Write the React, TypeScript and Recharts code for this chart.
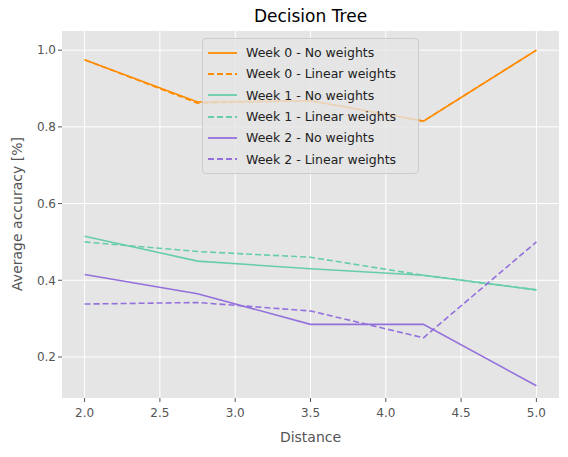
import { LineChart, Line, XAxis, YAxis, CartesianGrid, Label } from "recharts";

const distances = [2.0, 2.75, 3.5, 4.25, 5.0];
const week0None = [0.975, 0.865, 0.868, 0.815, 1.0];
const week0Linear = [0.975, 0.862, 0.868, 0.815, 1.0];
const week1None = [0.515, 0.45, 0.43, 0.413, 0.375];
const week1Linear = [0.5, 0.475, 0.46, 0.413, 0.375];
const week2None = [0.415, 0.365, 0.285, 0.285, 0.125];
const week2Linear = [0.338, 0.342, 0.32, 0.25, 0.5];

const xTicks = [2.0, 2.5, 3.0, 3.5, 4.0, 4.5, 5.0];
const yTicks = [0.2, 0.4, 0.6, 0.8, 1.0];

const series = [
  { key: "w0n", name: "Week 0 - No weights", color: "#ff8c00", dash: undefined },
  { key: "w0l", name: "Week 0 - Linear weights", color: "#ff8c00", dash: "6 3" },
  { key: "w1n", name: "Week 1 - No weights", color: "#66cdaa", dash: undefined },
  { key: "w1l", name: "Week 1 - Linear weights", color: "#66cdaa", dash: "6 3" },
  { key: "w2n", name: "Week 2 - No weights", color: "#9370db", dash: undefined },
  { key: "w2l", name: "Week 2 - Linear weights", color: "#9370db", dash: "6 3" },
];

const data = distances.map((d, i) => ({
  d,
  w0n: week0None[i],
  w0l: week0Linear[i],
  w1n: week1None[i],
  w1l: week1Linear[i],
  w2n: week2None[i],
  w2l: week2Linear[i],
}));

const font = "'DejaVu Sans', sans-serif";
const tick = { fontSize: 12, fill: "#555", fontFamily: font };

export default function App() {
  return (
    <div style={{ position: "relative", width: 568, height: 457, margin: -8, background: "#fff", fontFamily: font }}>
      <div style={{ position: "absolute", top: 6, left: 62, width: 497, textAlign: "center", fontSize: 17 }}>
        Decision Tree
      </div>
      <div style={{ position: "absolute", left: 6, top: 214, width: 0, height: 0 }}>
        <div style={{ position: "absolute", transform: "translate(-50%, -50%) rotate(-90deg)", left: 11, whiteSpace: "nowrap", fontSize: 14, color: "#555" }}>
          Average accuracy [%]
        </div>
      </div>
      <LineChart width={568} height={457} data={data} margin={{ top: 31, right: 9, bottom: 0, left: 0 }}>
        <CartesianGrid fill="#e5e5e5" stroke="#fff" strokeWidth={1} verticalValues={xTicks} horizontalValues={yTicks} />
        <XAxis dataKey="d" type="number" domain={[1.85, 5.15]} ticks={xTicks} tickFormatter={(v) => v.toFixed(1)}
          tick={tick} axisLine={false} tickLine={{ stroke: "#555" }} tickSize={4} tickMargin={6} height={59}>
          <Label value="Distance" position="insideTop" offset={34} style={{ fontSize: 14, fill: "#555", fontFamily: font }} />
        </XAxis>
        <YAxis type="number" domain={[0.093, 1.05]} ticks={yTicks} tickFormatter={(v) => v.toFixed(1)}
          tick={tick} axisLine={false} tickLine={{ stroke: "#555" }} tickSize={4} width={62} allowDataOverflow />
        {series.map((s) => (
          <Line key={s.key} dataKey={s.key} type="linear" stroke={s.color} strokeWidth={1.6}
            strokeDasharray={s.dash} dot={false} isAnimationActive={false} />
        ))}
      </LineChart>
      <div style={{ position: "absolute", left: 202, top: 38, width: 217, padding: "3px 0", background: "rgba(229,229,229,0.8)", border: "1px solid #ccc", borderRadius: 4, boxSizing: "border-box" }}>
        {series.map((s) => (
          <div key={s.key} style={{ display: "flex", alignItems: "center", height: 21.3, fontSize: 12.5, color: "#222" }}>
            <svg width={34} height={10} style={{ marginLeft: 3, marginRight: 6 }}>
              <line x1={2} y1={5} x2={31} y2={5} stroke={s.color} strokeWidth={1.8} strokeDasharray={s.dash} />
            </svg>
            {s.name}
          </div>
        ))}
      </div>
    </div>
  );
}
